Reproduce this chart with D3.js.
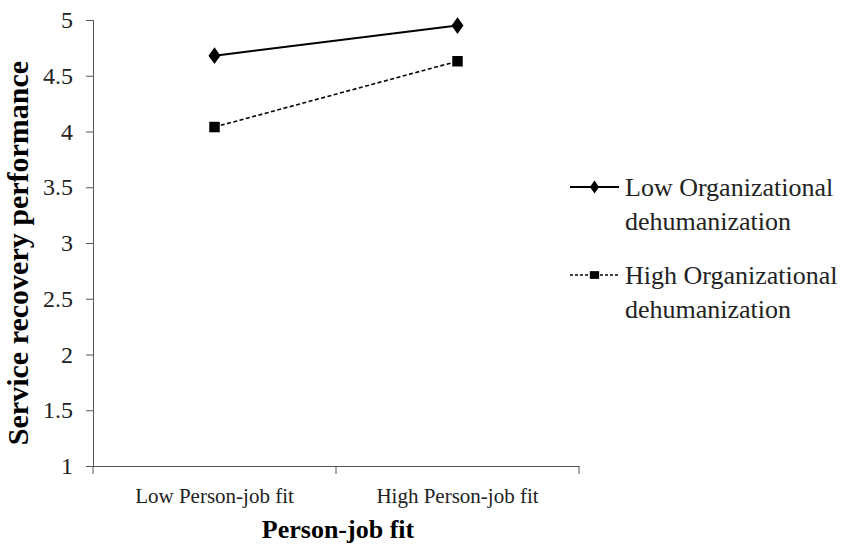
<!DOCTYPE html>
<html><head><meta charset="utf-8">
<script src="https://cdn.jsdelivr.net/npm/d3@7"></script>
<style>body{margin:0;background:#fff}</style>
</head><body>
<svg id="c" width="851" height="555"></svg>
<script>
const categories = ["Low Person-job fit", "High Person-job fit"];
const seriesNames = ["Low Organizational dehumanization", "High Organizational dehumanization"];
const lowODH = [4.68, 4.95];
const highODH = [4.04, 4.63];
const yTicks = [1, 1.5, 2, 2.5, 3, 3.5, 4, 4.5, 5];

const svg = d3.select("#c");
const font = "'Liberation Serif', 'Times New Roman', serif";
const m = {l: 93, r: 579, t: 20, b: 466};
const x = d3.scaleBand().domain(categories).range([m.l, m.r]);
const y = d3.scaleLinear().domain([1, 5]).range([m.b, m.t]);

// y axis
const ya = svg.append("g").attr("transform", `translate(${m.l},0)`)
  .call(d3.axisLeft(y).tickValues(yTicks).tickFormat(d => d).tickSizeOuter(0).tickSize(7).tickPadding(13));
ya.selectAll("text").style("font-family", font).style("font-size", "24px").attr("fill", "#222");
ya.selectAll("line,path").attr("stroke", "#555");

// x axis
const xa = svg.append("g").attr("transform", `translate(0,${m.b})`)
  .call(d3.axisBottom(x).tickSize(0).tickSizeOuter(0).tickPadding(22));
xa.select("path").attr("stroke", "#555");
xa.selectAll("text").style("font-family", font).style("font-size", "21px").attr("fill", "#222");
// boundary ticks
const bounds = [m.l, ...categories.slice(1).map(c => x(c)), m.r];
svg.append("g").selectAll("line").data(bounds).join("line")
  .attr("x1", d => d).attr("x2", d => d).attr("y1", m.b).attr("y2", m.b + 8)
  .attr("stroke", "#555");

const cx = c => x(c) + x.bandwidth() / 2;
const line = d3.line().x((d, i) => cx(categories[i])).y(d => y(d));

svg.append("path").datum(lowODH).attr("d", line).attr("fill", "none").attr("stroke", "#000").attr("stroke-width", 2);
svg.append("path").datum(highODH).attr("d", line).attr("fill", "none").attr("stroke", "#000").attr("stroke-width", 1.6).attr("stroke-dasharray", "4,2.5");

const diamond = d3.symbol().type(d3.symbolDiamond).size(80);
const square = d3.symbol().type(d3.symbolSquare).size(110);
svg.append("g").selectAll("path").data(lowODH).join("path")
  .attr("d", diamond).attr("transform", (d, i) => `translate(${cx(categories[i])},${y(d)}) scale(1.25,1)`).attr("fill", "#000");
svg.append("g").selectAll("path").data(highODH).join("path")
  .attr("d", square).attr("transform", (d, i) => `translate(${cx(categories[i])},${y(d)})`).attr("fill", "#000");

// axis titles
svg.append("text").attr("x", (m.l + m.r) / 2 + 2).attr("y", 538).attr("text-anchor", "middle")
  .style("font-family", font).style("font-size", "26px").style("font-weight", "bold").attr("fill", "#000")
  .text("Person-job fit");
svg.append("text").attr("transform", `translate(28,253) rotate(-90)`).attr("text-anchor", "middle")
  .style("font-family", font).style("font-size", "30px").style("font-weight", "bold").attr("fill", "#000")
  .text("Service recovery performance");

// legend
const lg = svg.append("g");
const legendItems = [
  {name: seriesNames[0], lines: ["Low Organizational", "dehumanization"], y: 187, dash: null, sym: d3.symbol().type(d3.symbolDiamond).size(50)},
  {name: seriesNames[1], lines: ["High Organizational", "dehumanization"], y: 275, dash: "3,2", sym: d3.symbol().type(d3.symbolSquare).size(60)}
];
legendItems.forEach(it => {
  lg.append("line").attr("x1", 570).attr("x2", 619).attr("y1", it.y).attr("y2", it.y)
    .attr("stroke", "#000").attr("stroke-width", it.dash ? 1.3 : 1.8).attr("stroke-dasharray", it.dash);
  lg.append("path").attr("d", it.sym).attr("transform", `translate(594.5,${it.y}) scale(1.2,1)`).attr("fill", "#000");
  it.lines.forEach((t, j) => {
    lg.append("text").attr("x", 625).attr("y", it.y + 9 + j * 34)
      .style("font-family", font).style("font-size", "26px").attr("fill", "#222").text(t);
  });
});
</script>
</body></html>
